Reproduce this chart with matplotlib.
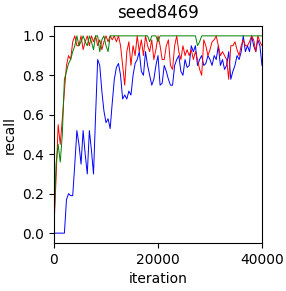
import numpy as np
import matplotlib
matplotlib.use("Agg")
import matplotlib.pyplot as plt

step = 400
blue = [0, 0, 0, 0, 0, 0.0, 0.17, 0.20, 0.19, 0.19,
        0.35, 0.52, 0.45, 0.35, 0.52, 0.40, 0.30, 0.52, 0.42, 0.30,
        0.60, 0.88, 0.85, 0.72, 0.62, 0.56, 0.58, 0.53, 0.66, 0.78,
        0.84, 0.86, 0.80, 0.68, 0.70, 0.68, 0.72, 0.70, 0.80, 0.86,
        0.88, 0.92, 0.82, 0.80, 0.92, 0.85, 0.80, 0.75, 0.78, 0.85,
        0.90, 0.75, 0.76, 0.85, 0.82, 0.78, 0.75, 0.75, 0.85, 0.88,
        0.90, 0.82, 0.80, 0.88, 0.84, 0.85, 0.95, 0.92, 0.95, 0.85,
        0.88, 0.90, 0.85, 0.86, 0.90, 0.88, 0.85, 0.90, 0.88, 0.95,
        0.85, 0.88, 0.83, 0.85, 0.92, 0.78, 0.82, 0.85, 0.90, 0.88,
        0.92, 1.00, 0.92, 0.95, 0.92, 1.00, 0.95, 0.92, 0.98, 0.95,
        0.85]
red = [0.03, 0.28, 0.55, 0.45, 0.58, 0.72, 0.85, 0.90, 0.88, 0.97,
       1.00, 0.95, 0.95, 1.00, 0.93, 0.97, 1.00, 0.95, 1.00, 0.97,
       1.00, 0.95, 0.98, 0.93, 0.97, 1.00, 0.97, 1.00, 0.98, 1.00,
       0.97, 1.00, 0.95, 0.85, 0.75, 0.92, 0.97, 0.85, 0.95, 0.90,
       1.00, 0.92, 0.98, 0.90, 1.00, 0.95, 0.92, 0.98, 0.88, 0.93,
       1.00, 0.95, 0.88, 0.88, 0.95, 0.98, 0.85, 0.83, 0.95, 1.00,
       0.92, 0.88, 0.95, 0.90, 0.93, 0.90, 0.93, 0.88, 0.92, 0.88,
       0.83, 0.80, 0.98, 0.95, 0.90, 0.93, 0.97, 0.98, 1.00, 0.95,
       0.90, 0.92, 0.90, 0.88, 0.78, 0.95, 0.95, 0.97, 0.93, 0.90,
       0.95, 0.98, 0.95, 0.95, 0.97, 1.00, 0.98, 0.92, 1.00, 0.97,
       0.95]
green = [0.05, 0.35, 0.45, 0.36, 0.50, 0.78, 0.82, 0.86, 0.88, 0.92,
         0.95, 1.00, 0.95, 0.97, 1.00, 0.97, 0.95, 1.00, 0.97, 0.93,
         1.00, 1.00, 0.92, 0.98, 1.00, 0.95, 0.92, 1.00, 1.00, 1.00,
         1.00, 1.00, 1.00, 1.00, 1.00, 1.00, 1.00, 1.00, 1.00, 1.00,
         1.00, 1.00, 1.00, 1.00, 1.00, 1.00, 0.97, 1.00, 1.00, 1.00,
         0.97, 1.00, 1.00, 1.00, 1.00, 1.00, 1.00, 1.00, 1.00, 1.00,
         1.00, 1.00, 1.00, 1.00, 1.00, 1.00, 1.00, 1.00, 1.00, 0.95,
         0.97, 1.00, 1.00, 1.00, 1.00, 1.00, 1.00, 1.00, 1.00, 1.00,
         1.00, 1.00, 1.00, 1.00, 1.00, 1.00, 1.00, 1.00, 1.00, 1.00,
         1.00, 1.00, 1.00, 1.00, 1.00, 1.00, 1.00, 1.00, 1.00, 1.00,
         1.00]
iters = np.arange(len(blue)) * step

fig = plt.figure(figsize=(2.86, 2.91), dpi=100)
ax = fig.add_axes([54/286, 1 - 243/291, 208/286, 217/291])
ax.plot(iters, blue, color='blue', lw=0.7)
ax.plot(iters, red, color='red', lw=0.7)
ax.plot(iters, green, color='green', lw=0.7)
ax.set_xlim(0, 40000)
ax.set_ylim(-0.05, 1.05)
ax.set_xticks([0, 20000, 40000])
ax.set_yticks([0.0, 0.2, 0.4, 0.6, 0.8, 1.0])
ax.set_xlabel('iteration')
ax.set_ylabel('recall')
ax.set_title('seed8469')
fig.savefig('out.png', dpi=100)
